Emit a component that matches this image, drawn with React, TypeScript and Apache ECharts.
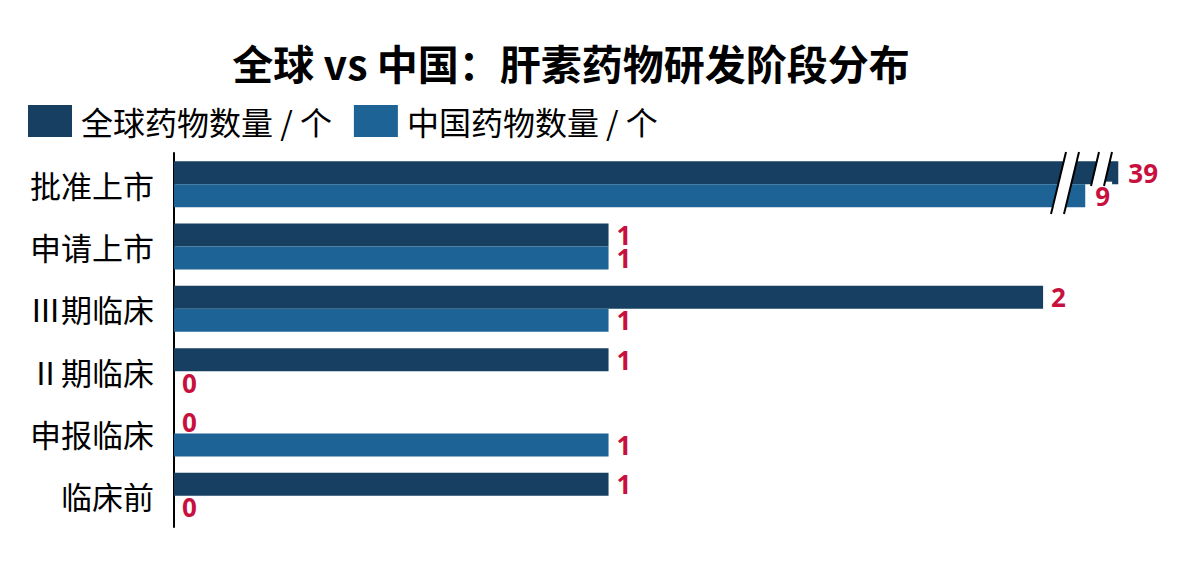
import React, { useEffect, useRef } from "react";
import * as echarts from "echarts";

const titleText = "全球 vs 中国：肝素药物研发阶段分布";
const categories = ["批准上市", "申请上市", "Ⅲ期临床", "Ⅱ期临床", "申报临床", "临床前"];
const seriesNames = ["全球药物数量 / 个", "中国药物数量 / 个"];
const globalCounts = [39, 1, 2, 1, 0, 1];
const chinaCounts = [9, 1, 1, 0, 1, 0];
// visible axis range; values above it are drawn as broken bars
const axisMax = 2.2;
const brokenEnds = [2.173, 2.097]; // where a broken (truncated) bar stops, per series

const colors = ["#163f62", "#1e6396"];
const labelColor = "#c8103e";
const CJK = "'Noto Sans CJK SC', 'Noto Sans', sans-serif";

function buildData(values: number[], brokenEnd: number) {
  return values.map((v) => ({ value: v > axisMax ? brokenEnd : v, real: v, broken: v > axisMax }));
}

export default function App() {
  const ref = useRef<HTMLDivElement>(null);
  useEffect(() => {
    if (!ref.current) return;
    const chart = echarts.init(ref.current, null, { renderer: "svg" });
    const mkSeries = (idx: number, values: number[]) => ({
      name: seriesNames[idx],
      type: "bar",
      data: buildData(values, brokenEnds[idx]).map((d) => ({
        value: d.value,
        label: d.broken
          ? { backgroundColor: "#ffffff", padding: [2, 2, 0, 2] }
          : undefined,
        real: d.real,
      })),
      barWidth: 23,
      barGap: "0%",
      itemStyle: { color: colors[idx] },
      label: {
        show: true,
        position: "right",
        distance: 8,
        color: labelColor,
        fontSize: 26,
        fontWeight: "bold",
        fontFamily: "'Open Sans', 'Noto Sans', sans-serif",
        formatter: (p: any) => String(p.data.real),
      },
      z: 2,
    });
    const slashes: any[] = [];
    const addPair = (x1: number, y1: number, x2: number, y2: number) => {
      const w = 13;
      slashes.push({
        type: "polygon",
        shape: { points: [[x1, y1], [x1 + w, y1], [x2 + w, y2], [x2, y2]] },
        style: { fill: "#ffffff" },
        z: 10,
      });
      slashes.push({
        type: "line",
        shape: { x1, y1, x2, y2 },
        style: { stroke: "#000", lineWidth: 2 },
        z: 11,
      });
      slashes.push({
        type: "line",
        shape: { x1: x1 + w, y1, x2: x2 + w, y2 },
        style: { stroke: "#000", lineWidth: 2 },
        z: 11,
      });
    };
    addPair(1066, 152, 1051, 214);
    addPair(1099, 152, 1091, 186);

    chart.setOption({
      animation: false,
      backgroundColor: "#ffffff",
      title: {
        text: titleText,
        left: 566,
        textAlign: "center",
        top: 36,
        textStyle: { fontSize: 41, fontWeight: "bold", color: "#000", fontFamily: CJK },
      },
      legend: {
        left: 28,
        top: 105,
        padding: 0,
        itemWidth: 44,
        itemHeight: 32,
        itemGap: 22,
        icon: "rect",
        textStyle: { fontSize: 32, color: "#000", fontFamily: CJK, padding: [0, 0, 0, 4] },
        data: seriesNames,
      },
      grid: { left: 174, top: 153, width: 956, height: 374 },
      xAxis: {
        type: "value",
        min: 0,
        max: axisMax,
        show: false,
        splitLine: { show: false },
      },
      yAxis: {
        type: "category",
        inverse: true,
        data: categories,
        axisLine: { show: true, lineStyle: { color: "#000", width: 2 } },
        axisTick: { show: false },
        axisLabel: { fontSize: 31, color: "#000", fontFamily: CJK, margin: 20, padding: [0, 0, 4, 0] },
      },
      series: [mkSeries(0, globalCounts), mkSeries(1, chinaCounts)],
      graphic: slashes,
    });
    return () => chart.dispose();
  }, []);
  return (
    <div
      ref={ref}
      style={{ position: "fixed", left: 0, top: 0, width: 1184, height: 565, background: "#fff" }}
    />
  );
}
